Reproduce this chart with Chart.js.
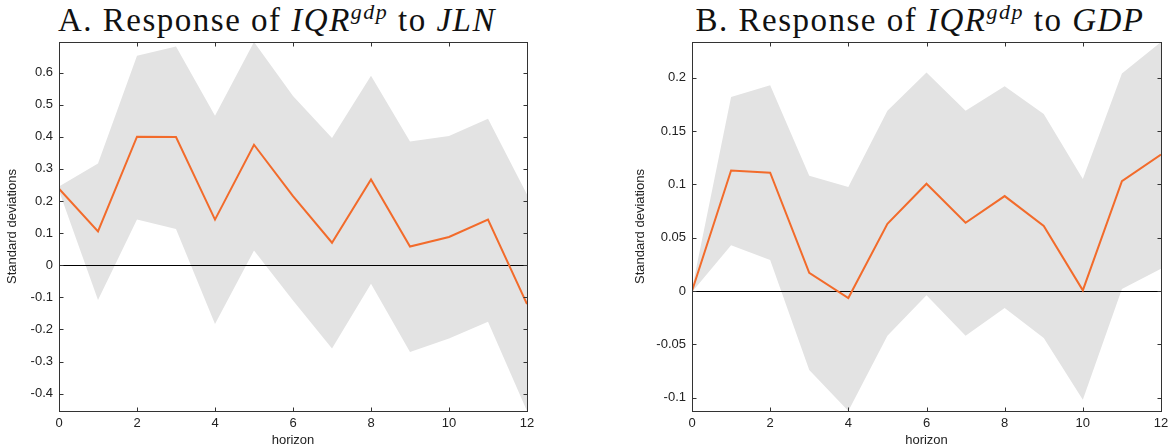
<!DOCTYPE html>
<html lang="en">
<head>
    <meta charset="UTF-8">
    <title>Impulse responses of IQR gdp</title>
    <script src="https://cdn.jsdelivr.net/npm/chart.js"></script>
    <style>
        body { margin: 0; background: #fff; }
        #wrap { position: relative; width: 1175px; height: 448px; overflow: hidden; }
        canvas { position: absolute; top: 0; }
        #chartA { left: 0; }
        #chartB { left: 600px; }
        .ttl {
            position: absolute;
            top: 0;
            transform: translateX(-50%);
            white-space: nowrap;
            font-family: "Liberation Serif", "Times New Roman", serif;
            font-size: 33px;
            line-height: 40px;
            letter-spacing: 1.5px;
            color: #111;
        }
        .ttl sup { font-size: 22px; vertical-align: 12px; line-height: 0; }
    </style>
</head>
<body>
<div id="wrap">
    <div class="ttl" style="left:277px">A. Response of <i>IQR</i><sup><i>gdp</i></sup> to <i>JLN</i></div>
    <div class="ttl" style="left:920px">B. Response of <i>IQR</i><sup><i>gdp</i></sup> to <i>GDP</i></div>
    <canvas id="chartA" width="600" height="448"></canvas>
    <canvas id="chartB" width="575" height="448"></canvas>
</div>

<script>
    // forecast horizon (quarters)
    const horizons = [0, 1, 2, 3, 4, 5, 6, 7, 8, 9, 10, 11, 12];

    // panel A: shock to JLN uncertainty
    const jlnResponse = [0.238, 0.105, 0.400, 0.399, 0.142, 0.375, 0.215, 0.070, 0.267, 0.058, 0.088, 0.142, -0.121];
    const jlnUpper    = [0.245, 0.317, 0.652, 0.681, 0.465, 0.695, 0.527, 0.396, 0.590, 0.385, 0.402, 0.456, 0.220];
    const jlnLower    = [0.232, -0.108, 0.142, 0.113, -0.183, 0.046, -0.110, -0.259, -0.058, -0.270, -0.228, -0.176, -0.454];

    // panel B: shock to GDP
    const gdpResponse = [0.000, 0.113, 0.111, 0.017, -0.0066, 0.063, 0.1006, 0.064, 0.089, 0.061, 0.0006, 0.103, 0.128];
    const gdpUpper    = [0.002, 0.182, 0.193, 0.108, 0.0975, 0.169, 0.205, 0.169, 0.192, 0.166, 0.105, 0.204, 0.2335];
    const gdpLower    = [-0.001, 0.043, 0.029, -0.074, -0.1125, -0.042, -0.004, -0.042, -0.016, -0.044, -0.102, 0.002, 0.021];

    const ORANGE = '#f26b2b';
    const BAND = '#e3e3e3';
    const FRAME = '#333';
    const TICK_FONT = { family: '"Liberation Sans", Arial, sans-serif', size: 13 };

    const toPoints = vals => vals.map((v, i) => ({ x: horizons[i], y: v }));
    // short labels: 0.2 rather than 0.20
    const shortNum = v => String(+Number(v).toFixed(3));

    // zero line under the response, boxed axes with inward ticks on all sides
    const matlabAxes = {
        id: 'matlabAxes',
        beforeDatasetDraw(chart, args) {
            if (args.index !== 0) return;
            const { ctx, chartArea: a, scales: { y } } = chart;
            const y0 = Math.round(y.getPixelForValue(0)) + 0.5;
            ctx.save();
            ctx.strokeStyle = '#000';
            ctx.lineWidth = 1;
            ctx.beginPath();
            ctx.moveTo(a.left, y0);
            ctx.lineTo(a.right, y0);
            ctx.stroke();
            ctx.restore();
        },
        afterDraw(chart) {
            const { ctx, chartArea: a, scales: { x, y } } = chart;
            const L = Math.round(a.left) + 0.5, R = Math.round(a.right) + 0.5;
            const T = Math.round(a.top) + 0.5, B = Math.round(a.bottom) + 0.5;
            const len = 4;
            ctx.save();
            ctx.strokeStyle = FRAME;
            ctx.lineWidth = 1;
            ctx.strokeRect(L, T, R - L, B - T);
            ctx.beginPath();
            x.ticks.forEach(t => {
                const px = Math.round(x.getPixelForValue(t.value)) + 0.5;
                ctx.moveTo(px, B); ctx.lineTo(px, B - len);
                ctx.moveTo(px, T); ctx.lineTo(px, T + len);
            });
            y.ticks.forEach(t => {
                const py = Math.round(y.getPixelForValue(t.value)) + 0.5;
                ctx.moveTo(L, py); ctx.lineTo(L + len, py);
                ctx.moveTo(R, py); ctx.lineTo(R - len, py);
            });
            ctx.stroke();
            ctx.restore();
        }
    };

    function drawPanel(id, response, upper, lower, yMin, yMax, yStep, axisWidth, padRight, yTitlePad) {
        new Chart(document.getElementById(id), {
            type: 'line',
            data: {
                datasets: [
                    { data: toPoints(response), borderColor: ORANGE, borderWidth: 2, pointRadius: 0, tension: 0, fill: false },
                    { data: toPoints(upper), borderWidth: 0, borderColor: BAND, backgroundColor: BAND, pointRadius: 0, tension: 0, fill: '+1' },
                    { data: toPoints(lower), borderWidth: 0, borderColor: BAND, pointRadius: 0, tension: 0, fill: false }
                ]
            },
            options: {
                responsive: false,
                animation: false,
                devicePixelRatio: 1,
                layout: { padding: { left: 0, right: padRight, top: 42, bottom: 0 } },
                plugins: { legend: { display: false }, tooltip: { enabled: false } },
                scales: {
                    x: {
                        type: 'linear',
                        min: 0,
                        max: 12,
                        grid: { display: false, drawTicks: false },
                        border: { display: false },
                        ticks: { stepSize: 2, padding: 5, color: '#222', font: TICK_FONT, maxRotation: 0, callback: shortNum },
                        title: { display: true, text: 'horizon', color: '#222', font: TICK_FONT, padding: 0 },
                        afterFit(s) { s.height = 37; s.paddingLeft = 0; s.paddingRight = 0; }
                    },
                    y: {
                        min: yMin,
                        max: yMax,
                        grid: { display: false, drawTicks: false },
                        border: { display: false },
                        ticks: { stepSize: yStep, includeBounds: false, padding: 6, color: '#222', font: TICK_FONT, callback: shortNum },
                        title: { display: true, text: 'Standard deviations', color: '#222', font: TICK_FONT, padding: { top: yTitlePad, bottom: 0 } },
                        afterFit(s) { s.width = axisWidth; s.paddingTop = 0; s.paddingBottom = 0; }
                    }
                }
            },
            plugins: [matlabAxes]
        });
    }

    drawPanel('chartA', jlnResponse, jlnUpper, jlnLower, -0.454, 0.695, 0.1, 59, 73, 5);
    drawPanel('chartB', gdpResponse, gdpUpper, gdpLower, -0.1125, 0.2335, 0.05, 92, 14, 33);
</script>
</body>
</html>
